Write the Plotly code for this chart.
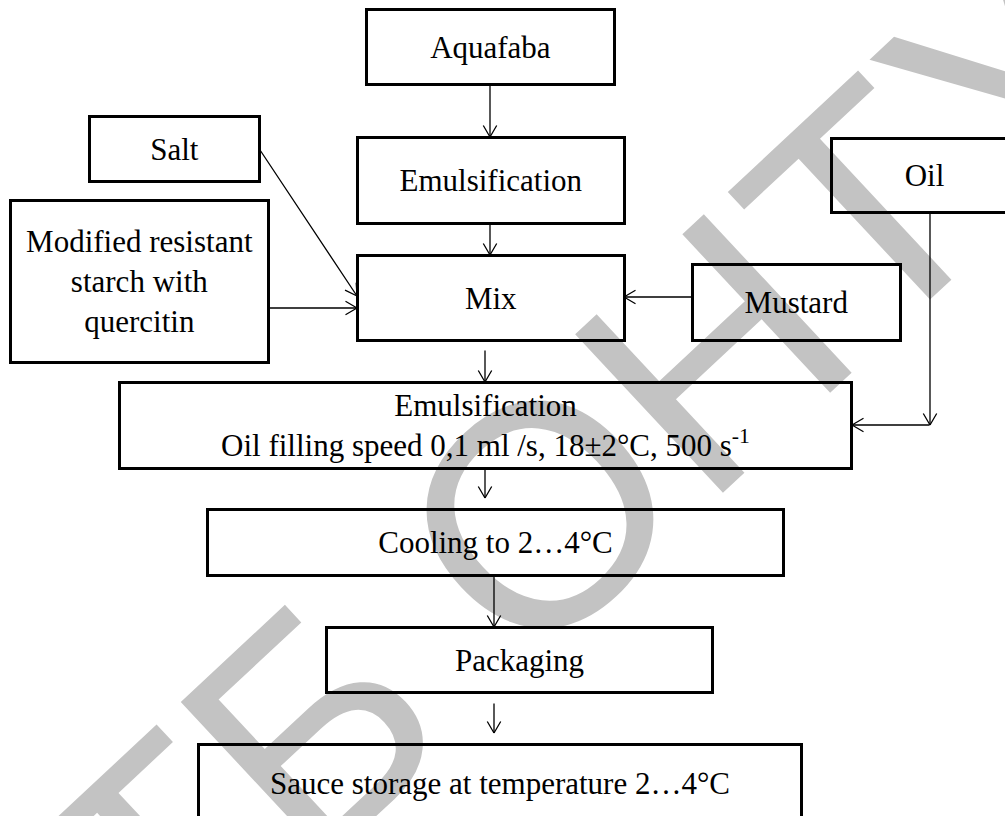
import plotly.graph_objects as go

# ---- content -------------------------------------------------------------
node_ids = ["aquafaba", "emul1", "mix", "salt", "starch", "mustard", "oil",
            "emul2", "cooling", "packaging", "storage"]
node_labels = [
    "Aquafaba",
    "Emulsification",
    "Mix",
    "Salt",
    "Modified resistant<br>starch with<br>quercitin",
    "Mustard",
    "Oil",
    "Emulsification<br>Oil filling speed 0,1 ml /s, 18±2°C, 500 s<sup>-1</sup>",
    "Cooling to 2…4°C",
    "Packaging",
    "Sauce storage at temperature 2…4°C",
]
watermark_text = "НТБ ОНТУ"

# ---- layout geometry (pixel space: x0, x1, y0, y1) ------------------------
geom = {
    "aquafaba":  (366, 614, 9, 84),
    "emul1":     (357, 624, 137, 223),
    "mix":       (357, 624, 255, 340),
    "salt":      (89, 259, 116, 181),
    "starch":    (10, 268, 200, 362),
    "mustard":   (692, 900, 264, 340),
    "oil":       (831, 1017, 138, 212),
    "emul2":     (119, 851, 382, 468),
    "cooling":   (207, 783, 509, 575),
    "packaging": (326, 712, 627, 692),
    "storage":   (198, 801, 744, 822),
}
# arrows: list of polylines, arrowhead at the final point
arrows = [
    [(490, 84), (490, 137)],
    [(490, 223), (490, 255)],
    [(260, 150), (357, 296)],
    [(268, 308), (357, 308)],
    [(692, 297), (624, 297)],
    [(485, 350), (485, 382)],
    [(930, 212), (930, 425)],
    [(930, 425), (852, 425)],
    [(485, 468), (485, 498)],
    [(494, 575), (494, 627)],
    [(494, 703), (494, 733)],
]

W, H = 1005, 816
fig = go.Figure()
fig.add_trace(go.Scatter(x=[0, W], y=[0, H], mode="markers",
                         marker=dict(opacity=0), hoverinfo="skip",
                         showlegend=False))

# watermark first so that everything else is drawn on top of it
fig.add_annotation(x=506, y=546, xref="x", yref="y", text=watermark_text,
                   showarrow=False, textangle=-43,
                   font=dict(family="Liberation Sans", size=315, color="#c3c3c3"),
                   xanchor="center", yanchor="middle")

BW = 3
for nid, label in zip(node_ids, node_labels):
    x0, x1, y0, y1 = geom[nid]
    fig.add_annotation(
        x=(x0 + x1) / 2, y=(y0 + y1) / 2, xref="x", yref="y",
        text=label, showarrow=False,
        width=x1 - x0 - BW, height=y1 - y0 - BW,
        borderwidth=BW, bordercolor="black", borderpad=0,
        bgcolor="rgba(0,0,0,0)", align="center", valign="middle",
        xanchor="center", yanchor="middle",
        font=dict(family="Liberation Serif", size=31, color="black"),
    )


def seg(p0, p1, w=1.3):
    fig.add_annotation(x=p1[0], y=p1[1], ax=p0[0], ay=p0[1],
                       xref="x", yref="y", axref="x", ayref="y",
                       text="", showarrow=True, arrowhead=0, arrowwidth=w,
                       arrowcolor="black", standoff=0, startstandoff=0,
                       borderpad=0)


HEAD_BACK, HEAD_HALF = 12, 7
for line in arrows:
    for a, b in zip(line[:-1], line[1:]):
        seg(a, b)
    (xa, ya), (xb, yb) = line[-2], line[-1]
    dx, dy = xb - xa, yb - ya
    L = (dx * dx + dy * dy) ** 0.5
    ux, uy = dx / L, dy / L
    nx, ny = -uy, ux
    for s in (1, -1):
        seg((xb - HEAD_BACK * ux + s * HEAD_HALF * nx,
             yb - HEAD_BACK * uy + s * HEAD_HALF * ny), (xb, yb))

fig.update_xaxes(range=[0, W], visible=False, fixedrange=True)
fig.update_yaxes(range=[H, 0], visible=False, fixedrange=True)
fig.update_layout(width=W, height=H, margin=dict(l=0, r=0, t=0, b=0),
                  plot_bgcolor="white", paper_bgcolor="white",
                  showlegend=False)

fig.write_html("out.html", config={"displayModeBar": False},
               post_script="document.body.style.margin='0';document.body.style.overflow='hidden';")
